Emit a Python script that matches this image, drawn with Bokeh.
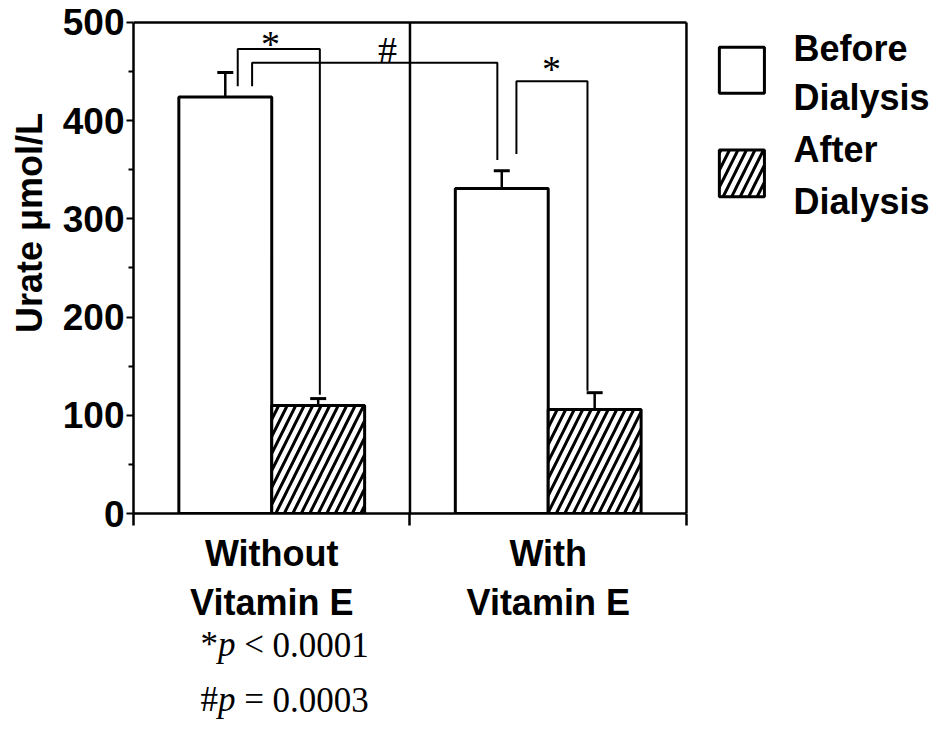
from bokeh.plotting import figure
from bokeh.layouts import column
from bokeh.models import (ColumnDataSource, Whisker, TeeHead, FixedTicker, Range1d,
                          LinearAxis)
from bokeh.core.properties import value
from bokeh.embed import file_html
from bokeh.resources import INLINE

# ---------------- data ----------------
groups = ["Without\nVitamin E", "With\nVitamin E"]
before_mean = [424, 331]
before_err = [25, 18]
after_mean = [110, 106]
after_err = [7, 17]
series_labels = [["Before", "Dialysis"], ["After", "Dialysis"]]
y_title = "Urate μmol/L"
y_ticks = [0, 100, 200, 300, 400, 500]
y_minor = [50, 150, 250, 350, 450]
sig_symbols = ["*", "#", "*"]
p_notes = [["*", "p", "<", "0.0001"], ["#", "p", "=", "0.0003"]]

# ---------------- layout constants ----------------
BAR_W = 0.336
SANS = "Liberation Sans"
SERIF = "Liberation Serif"
W = 939
MAIN_H = 625
n = len(groups)
centers = [i + 0.5 for i in range(n)]
xb = [c - BAR_W / 2 for c in centers]
xa = [c + BAR_W / 2 for c in centers]
ytop = y_ticks[-1]
XR = (0, 2.908)

p = figure(width=W, height=MAIN_H, x_range=Range1d(*XR), y_range=Range1d(0, 510.1),
           output_backend="svg", toolbar_location=None,
           x_axis_type=None, y_axis_type=None,
           min_border_left=133, min_border_right=2, min_border_top=12,
           min_border_bottom=110)
p.outline_line_color = None
p.background_fill_color = "white"
p.border_fill_color = "white"

# axes
yax = LinearAxis(bounds=(0, ytop),
                 ticker=FixedTicker(ticks=y_ticks, minor_ticks=y_minor))
yax.axis_line_width = 2.5
yax.major_tick_line_width = 2
yax.minor_tick_line_width = 2
yax.major_tick_out = 7
yax.major_tick_in = 0
yax.minor_tick_out = 5
yax.minor_tick_in = 0
yax.major_label_standoff = 2
yax.major_label_text_font = SANS
yax.major_label_text_font_style = "bold"
yax.major_label_text_font_size = "37px"
yax.major_label_text_color = "black"
yax.axis_label = "\u00a0" * 8 + y_title
yax.axis_label_text_font = SANS
yax.axis_label_text_font_style = "bold"
yax.axis_label_text_font_size = "36px"
yax.axis_label_text_color = "black"
yax.axis_label_standoff = 10
p.add_layout(yax, "left")

xax = LinearAxis(bounds=(0, n),
                 ticker=FixedTicker(ticks=centers, minor_ticks=list(range(n + 1))))
xax.axis_line_width = 2.5
xax.major_tick_out = 0
xax.major_tick_in = 0
xax.minor_tick_out = 12
xax.minor_tick_in = 0
xax.minor_tick_line_width = 2.5
xax.major_label_overrides = {c: g for c, g in zip(centers, groups)}
xax.major_label_standoff = 7
xax.major_label_text_font = SANS
xax.major_label_text_font_style = "bold"
xax.major_label_text_font_size = "36px"
xax.major_label_text_color = "black"
xax.major_label_text_line_height = 1.2
p.add_layout(xax, "below")

# frame lines (top, right, divider)
p.segment(x0=[0, n, 1], y0=[ytop, 0, 0], x1=[n, n, 1], y1=[ytop, ytop, ytop],
          line_color="black", line_width=2.5)

# bars
p.vbar(x=xb, top=before_mean, width=BAR_W, bottom=0, fill_color="white",
       line_color="black", line_width=3)
p.vbar(x=xa, top=after_mean, width=BAR_W, bottom=0, fill_color="white",
       line_color="black", line_width=3, hatch_pattern="/", hatch_color="black",
       hatch_weight=3, hatch_scale=17)

# error bars
def add_err(xs, m, e):
    src = ColumnDataSource(dict(x=xs, lo=[a - b for a, b in zip(m, e)],
                                hi=[a + b for a, b in zip(m, e)]))
    w = Whisker(base="x", lower="lo", upper="hi", source=src, line_width=2.5,
                line_color="black",
                upper_head=TeeHead(size=16, line_width=3, line_color="black"),
                lower_head=TeeHead(size=16, line_width=3, line_color="black"))
    p.add_layout(w)

add_err(xb, before_mean, before_err)
add_err(xa, after_mean, after_err)

# significance brackets
br_xl = [xb[0] + 0.045, xb[0] + 0.097, xb[1] + 0.053]
br_xr = [xa[0] + 0.006, xb[1] - 0.016, xa[1] - 0.026]
br_top = [473, 459, 440]
br_lb = [435, 435, 366]
br_rb = [after_mean[0] + after_err[0] + 4, before_mean[1] + before_err[1] + 11,
         after_mean[1] + after_err[1] + 2]
p.multi_line(xs=[[a, a, b, b] for a, b in zip(br_xl, br_xr)],
             ys=[[lb, t, t, rb] for lb, t, rb in zip(br_lb, br_top, br_rb)],
             line_color="black", line_width=2)
p.text(x=[0.4955, 0.919, 1.512], y=[478, 472, 453], text=sig_symbols,
       text_font=value(SERIF), text_font_size="38px", text_align="center",
       text_baseline="middle", text_color="black")

# legend (drawn)
lg_x0, lg_x1 = 2.119, 2.282
p.quad(left=[lg_x0], right=[lg_x1], top=[474.6], bottom=[428], fill_color="white",
       line_color="black", line_width=3)
p.quad(left=[lg_x0], right=[lg_x1], top=[370.2], bottom=[322.5], fill_color="white",
       line_color="black", line_width=3, hatch_pattern="/", hatch_color="black",
       hatch_weight=3, hatch_scale=17)
leg_y = [[473.6, 423.9], [370.2, 317.4]]
for lines, ys in zip(series_labels, leg_y):
    p.text(x=[2.387] * 2, y=ys, text=lines, text_font=value(SANS),
           text_font_style="bold", text_font_size="36px", text_align="left",
           text_baseline="middle", text_color="black")

# ---------------- p-value notes (second strip) ----------------
NOTE_H = 739 - MAIN_H
q = figure(width=W, height=NOTE_H, x_range=Range1d(*XR), y_range=Range1d(NOTE_H, 0),
           output_backend="svg", toolbar_location=None,
           x_axis_type=None, y_axis_type=None,
           min_border_left=133, min_border_right=2, min_border_top=0,
           min_border_bottom=0)
q.outline_line_color = None
q.background_fill_color = "white"
q.border_fill_color = "white"
note_x0 = (200 - 133) / 276.5
offs = [0, 17.5, 43.75, 72]
note_rows = [19, 74]
for parts, yy in zip(p_notes, note_rows):
    for k, (t, dx) in enumerate(zip(parts, offs)):
        q.text(x=[note_x0], y=[yy], text=[t], x_offset=dx, text_align="left",
               text_baseline="middle", text_font=value(SERIF),
               text_font_style="italic" if k == 1 else "normal",
               text_font_size="35px", text_color="black")

layout = column(p, q, spacing=0)
open("out.html", "w").write(file_html(layout, INLINE))
